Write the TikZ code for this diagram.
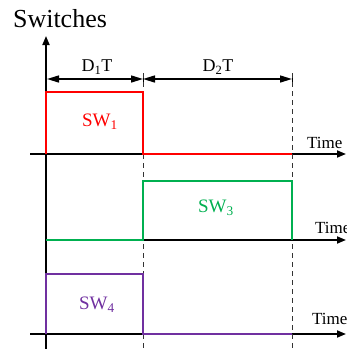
\documentclass[tikz,border=0pt]{standalone}
\usepackage{fontspec}
\setmainfont{Liberation Serif}
\usetikzlibrary{arrows.meta,positioning}
\definecolor{swred}{RGB}{255,0,0}
\definecolor{swgreen}{RGB}{0,176,80}
\definecolor{swpurple}{RGB}{112,48,160}

\begin{document}
\begin{tikzpicture}[x=1pt, y=-1pt,
  axis/.style={line width=1.8pt, -{Triangle[length=9pt,width=7pt]}},
  dim/.style={line width=1.5pt, {Triangle[length=12pt,width=7pt]}-{Triangle[length=12pt,width=7pt]}},
  guide/.style={line width=0.8pt, draw=black!80, dash pattern=on 5pt off 4pt},
  wave/.style={line width=1.8pt, draw=#1, line join=miter},
  timelbl/.style={font=\fontsize{17}{17}\selectfont, inner sep=0pt, anchor=west},
  swlbl/.style={font=\fontsize{19}{19}\selectfont, text=#1, inner sep=0pt},
  dimlbl/.style={font=\fontsize{18}{18}\selectfont, inner sep=0pt}
]
\useasboundingbox (0,0) rectangle (347,349);

% Vertical axis
\coordinate (origin) at (46,349);
\coordinate (top) at (46,36);
\draw[axis] (origin) -- (top);
\node[font=\fontsize{26}{26}\selectfont, inner sep=0pt] (switches) at (60,19) {Switches};

% Time axes
\coordinate (ax1s) at (30,154);  \coordinate (ax1e) at (346,154);
\coordinate (ax2s) at (46,240);  \coordinate (ax2e) at (346,240);
\coordinate (ax3s) at (30,334);  \coordinate (ax3e) at (346,334);
\draw[axis] (ax1s) -- (ax1e);
\draw[axis] (ax2s) -- (ax2e);
\draw[axis] (ax3s) -- (ax3e);
\node[timelbl] (time1) at (307,143) {Time};
\node[timelbl] (time2) at (315,228) {Time};
\node[timelbl] (time3) at (312,319) {Time};

% Interval marks
\coordinate (d0) at (47,79);
\coordinate (d1) at (143,79);
\coordinate (d2) at (292,79);
\draw[dim] (d0) -- (d1);
\draw[dim] (d1) -- (d2);
\foreach \p in {d1,d2} {
  \draw[line width=0.8pt] ([yshift=-6pt]\p) -- ([yshift=6pt]\p);
  \draw[guide] ([yshift=6pt]\p) -- (\p |- origin);
}
\node[dimlbl] (d1t) at (97,67) {D\textsubscript{1}T};
\node[dimlbl] (d2t) at (218,67) {D\textsubscript{2}T};

% Waveforms
\draw[wave=swred] (46,154) -- (46,92) -| (143,154) -- (292,154);
\draw[wave=swgreen] (46,240) -- (143,240) |- (292,181) -- (292,240);
\draw[wave=swpurple] (46,334) -- (46,274) -| (143,334) -- (292,334);
\node[swlbl=swred] (sw1) at (100,122) {SW\textsubscript{1}};
\node[swlbl=swgreen] (sw3) at (216,208) {SW\textsubscript{3}};
\node[swlbl=swpurple] (sw4) at (97,305) {SW\textsubscript{4}};

\end{tikzpicture}
\end{document}
